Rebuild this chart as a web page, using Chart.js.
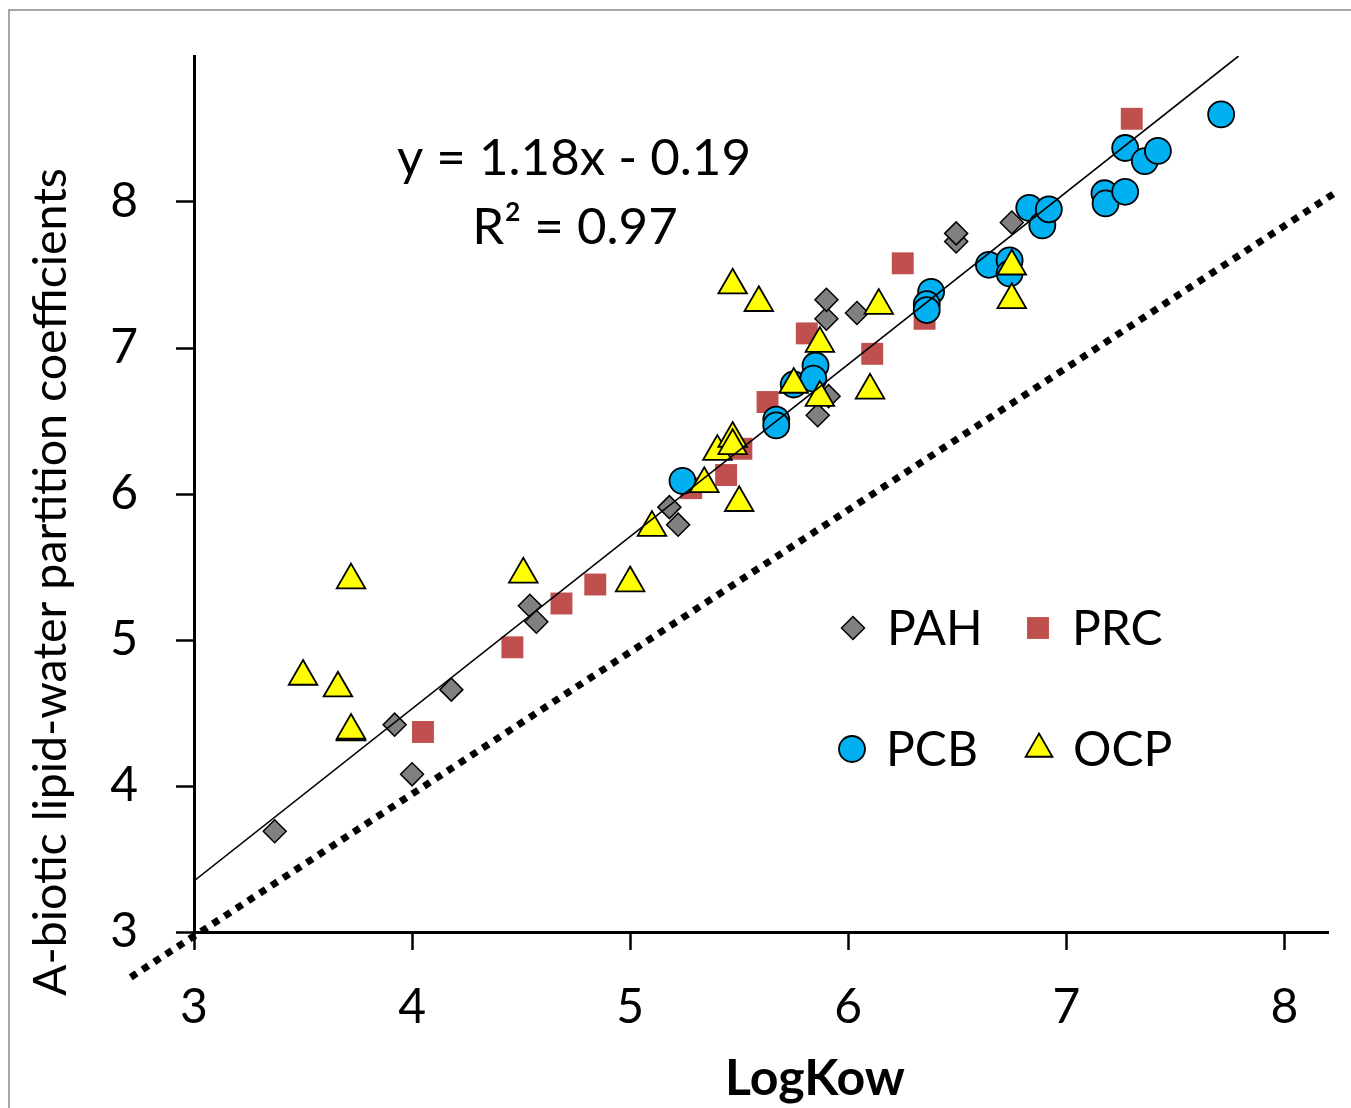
<html>
<head>
<script src="https://cdn.jsdelivr.net/npm/chart.js"></script>
<style>
  body { margin: 0; background: #fff; overflow: hidden; }
</style>
</head>
<body>
<canvas id="myChart" width="1351" height="1108"></canvas>

<script>
  // values (LogKow, partition coefficient)
  const pahPoints = [
    [3.37, 3.69], [3.92, 4.42], [4.00, 4.08], [4.18, 4.66], [4.54, 5.235], [4.57, 5.125],
    [5.18, 5.91], [5.22, 5.79], [5.86, 6.54], [5.91, 6.67], [5.90, 7.20], [5.90, 7.33],
    [6.04, 7.24], [6.495, 7.73], [6.495, 7.785], [6.75, 7.86]
  ];
  const prcPoints = [
    [4.05, 4.37], [4.46, 4.95], [4.685, 5.25], [4.84, 5.38], [5.28, 6.04], [5.44, 6.13],
    [5.51, 6.31], [5.63, 6.63], [5.81, 7.10], [6.11, 6.96], [6.25, 7.58], [6.35, 7.20],
    [7.30, 8.57]
  ];
  const pcbPoints = [
    [5.24, 6.09], [5.67, 6.51], [5.67, 6.47], [5.75, 6.75], [5.85, 6.88], [5.84, 6.79],
    [6.38, 7.385], [6.36, 7.30], [6.36, 7.26], [6.645, 7.57], [6.74, 7.60], [6.74, 7.51],
    [6.83, 7.96], [6.89, 7.84], [6.92, 7.95], [7.175, 8.06], [7.18, 7.99], [7.27, 8.07],
    [7.27, 8.37], [7.36, 8.28], [7.42, 8.35], [7.71, 8.60]
  ];
  const ocpPoints = [
    [3.50, 4.75], [3.66, 4.67], [3.72, 4.37], [3.72, 4.38], [3.72, 5.41], [4.51, 5.45],
    [5.00, 5.39], [5.10, 5.77], [5.34, 6.07], [5.40, 6.29], [5.47, 6.38], [5.47, 6.33],
    [5.50, 5.94], [5.47, 7.43], [5.59, 7.31], [5.75, 6.75], [5.87, 7.03], [5.87, 6.66],
    [6.10, 6.71], [6.14, 7.29], [6.75, 7.56], [6.75, 7.33]
  ];
  // trend line ends and the dotted reference line ends
  const trendLine = [[3.0, 3.35], [7.79, 9.0]];
  const refLine = [[2.71, 2.69], [8.24, 8.07]];

  const xTicks = [3, 4, 5, 6, 7, 8];
  const yTicks = [3, 4, 5, 6, 7, 8];

  const equationText = 'y = 1.18x - 0.19';
  const r2Text = 'R\u00b2 = 0.97';
  const xTitle = 'LogKow';
  const yTitle = 'A-biotic lipid-water partition coefficients';

  const FONT = 'Lato, "Open Sans", sans-serif';

  const toXY = (arr) => arr.map(p => ({x: p[0], y: p[1]}));

  // legend slots (dataset index, marker x, marker y)
  const legendSlots = [
    {ds: 0, x: 853, y: 628},
    {ds: 1, x: 1038, y: 628},
    {ds: 2, x: 852, y: 749},
    {ds: 3, x: 1039, y: 749}
  ];

  const extras = {
    id: 'extras',
    beforeDraw(chart) {
      let c = chart.ctx;
      c.save();
      c.strokeStyle = '#a6a6a6';
      c.lineWidth = 2;
      c.strokeRect(9, 10, 1400, 1200);
      c.restore();
    },
    afterDraw(chart) {
      let c = chart.ctx;
      c.save();
      c.fillStyle = '#000';
      c.textAlign = 'center';
      c.textBaseline = 'alphabetic';
      c.font = '51px ' + FONT;
      c.fillText(equationText, 574, 175);
      c.fillText(r2Text, 575, 244);

      c.font = 'bold 50px ' + FONT;
      c.fillText(xTitle, 815, 1095);

      c.save();
      c.translate(66, 582);
      c.rotate(-Math.PI / 2);
      c.font = '46.5px ' + FONT;
      c.fillText(yTitle, 0, 0);
      c.restore();

      // legend
      c.textAlign = 'left';
      c.font = '48px ' + FONT;
      legendSlots.forEach(s => {
        let ds = chart.data.datasets[s.ds];
        c.fillStyle = ds.backgroundColor;
        c.strokeStyle = ds.borderColor;
        c.lineWidth = ds.borderWidth;
        Chart.helpers.drawPoint(c, {
          pointStyle: ds.pointStyle,
          radius: ds.legendRadius,
          rotation: 0,
          borderWidth: ds.borderWidth
        }, s.x, s.y);
        c.fillStyle = '#000';
        c.fillText(ds.label, s.x + 34, s.y + 17);
      });
      c.restore();
    }
  };

  const ctx = document.getElementById('myChart');
  const chart = new Chart(ctx, {
    type: 'scatter',
    data: {
      datasets: [
        {
          label: 'PAH', data: toXY(pahPoints), pointStyle: 'rectRot',
          backgroundColor: '#808080', borderColor: '#000', borderWidth: 1.5,
          pointRadius: 11.5, legendRadius: 11.5, order: 4
        },
        {
          label: 'PRC', data: toXY(prcPoints), pointStyle: 'rect',
          backgroundColor: '#c0504d', borderColor: '#c0504d', borderWidth: 0,
          pointRadius: 15.5, legendRadius: 15.5, order: 3
        },
        {
          label: 'PCB', data: toXY(pcbPoints), pointStyle: 'circle',
          backgroundColor: '#00b0f0', borderColor: '#000', borderWidth: 1.8,
          pointRadius: 13, legendRadius: 13, order: 2
        },
        {
          label: 'OCP', data: toXY(ocpPoints), pointStyle: 'triangle',
          backgroundColor: '#ffff00', borderColor: '#000', borderWidth: 1.8,
          pointRadius: 16.5, legendRadius: 15.5, order: 1
        },
        {
          label: 'trend', data: toXY(trendLine), showLine: true, pointRadius: 0,
          borderColor: '#000', borderWidth: 1.6, order: 0
        },
        {
          label: '1:1', data: toXY(refLine), showLine: true, pointRadius: 0,
          borderColor: '#000', borderWidth: 7, borderDash: [7, 7], clip: false, order: 0
        }
      ]
    },
    options: {
      responsive: false,
      animation: false,
      events: [],
      layout: { padding: { left: 0, top: 56, right: 23, bottom: 0 } },
      plugins: {
        legend: { display: false },
        tooltip: { enabled: false }
      },
      scales: {
        x: {
          type: 'linear',
          min: 3,
          max: 8.2,
          afterBuildTicks: (s) => { s.ticks = xTicks.map(v => ({value: v})); },
          afterFit: (s) => { s.height = 176; },
          ticks: { color: '#000', font: { family: FONT, size: 48 }, padding: 29 },
          grid: { drawOnChartArea: false, tickLength: 18, tickWidth: 2.5, tickColor: '#000' },
          border: { color: '#000', width: 3 }
        },
        y: {
          type: 'linear',
          min: 3,
          max: 9,
          afterBuildTicks: (s) => { s.ticks = yTicks.map(v => ({value: v})); },
          afterFit: (s) => { s.width = 194; s.paddingTop = 0; s.paddingBottom = 0; },
          ticks: { color: '#000', font: { family: FONT, size: 48 }, padding: 38 },
          grid: { drawOnChartArea: false, tickLength: 18, tickWidth: 2.5, tickColor: '#000' },
          border: { color: '#000', width: 3 }
        }
      }
    },
    plugins: [extras]
  });
</script>
</body>
</html>
